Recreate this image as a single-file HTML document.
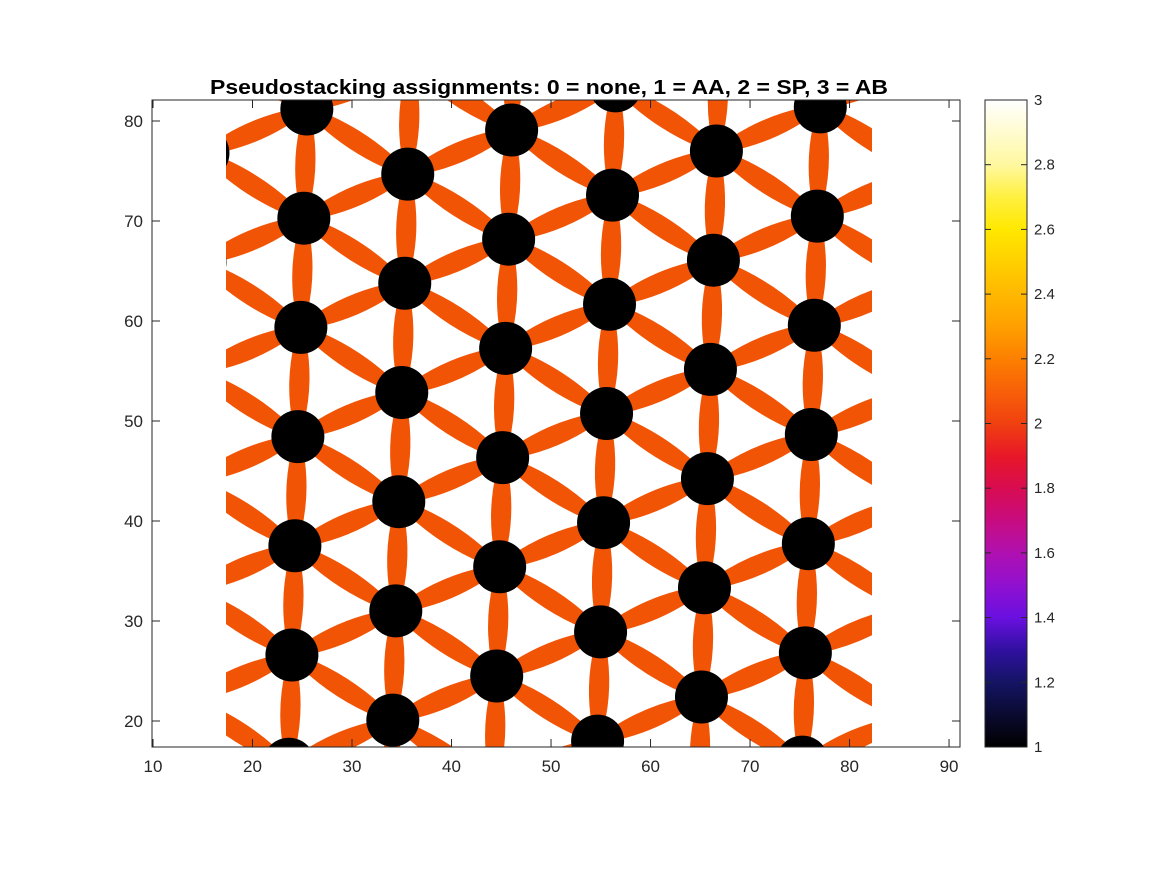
<!DOCTYPE html>
<html><head><meta charset="utf-8"><style>
html,body{margin:0;padding:0;background:#fff;font-family:"Liberation Sans",sans-serif;overflow:hidden;width:1167px;height:875px}
svg{display:block}
svg text{font-family:"Liberation Sans",sans-serif}
</style></head><body>
<svg id="chart" width="1167" height="875" xmlns="http://www.w3.org/2000/svg">
<defs>
<clipPath id="dataClip"><rect x="226" y="100" width="646" height="647"/></clipPath>
<linearGradient id="cbGrad" x1="0" y1="1" x2="0" y2="0">
<stop offset="0" stop-color="#000000"/><stop offset="0.05" stop-color="#0a0a30"/>
<stop offset="0.1" stop-color="#141464"/><stop offset="0.15" stop-color="#3010a0"/>
<stop offset="0.2" stop-color="#6a10e0"/><stop offset="0.25" stop-color="#9010d0"/>
<stop offset="0.3" stop-color="#b010b0"/><stop offset="0.35" stop-color="#c80c80"/>
<stop offset="0.4" stop-color="#d80c50"/><stop offset="0.45" stop-color="#e81828"/>
<stop offset="0.5" stop-color="#f04010"/><stop offset="0.55" stop-color="#f86008"/>
<stop offset="0.6" stop-color="#fc8000"/><stop offset="0.65" stop-color="#ffa000"/>
<stop offset="0.7" stop-color="#ffb800"/><stop offset="0.75" stop-color="#ffd000"/>
<stop offset="0.8" stop-color="#ffe800"/><stop offset="0.85" stop-color="#fff040"/>
<stop offset="0.9" stop-color="#fff8a0"/><stop offset="1" stop-color="#ffffff"/>
</linearGradient>
</defs>
<g id="plot"></g>
</svg>
<script>
// Data (in axis units)
const xTicks=[10,20,30,40,50,60,70,80,90];
const yTicks=[20,30,40,50,60,70,80];
const cbTicks=[1,1.2,1.4,1.6,1.8,2,2.2,2.4,2.6,2.8,3];
const cbTickLabels=["1","1.2","1.4","1.6","1.8","2","2.2","2.4","2.6","2.8","3"];
const latticeOrigin=[24.86,59.36];
const vecA=[-0.30,-10.92];
const vecB=[10.44,4.41];
const dataExtentX=[17.4,82.3];
const dataExtentY=[17.4,82.1];

const NS="http://www.w3.org/2000/svg";
const L=152,R=960,T=100,B=747;
const xMin=9.9,xMax=91.1,yMin=17.4,yMax=82.1;
const sx=v=>L+(v-xMin)/(xMax-xMin)*(R-L);
const sy=v=>B-(v-yMin)/(yMax-yMin)*(B-T);
const g=document.getElementById('plot');
function mk(tag,attrs,parent){const e=document.createElementNS(NS,tag);for(const k in attrs)e.setAttribute(k,attrs[k]);(parent||g).appendChild(e);return e;}

const dg=mk('g',{'clip-path':'url(#dataClip)'});


const bg=mk('rect',{x:sx(dataExtentX[0]),y:sy(dataExtentY[1]),width:sx(dataExtentX[1])-sx(dataExtentX[0]),height:sy(dataExtentY[0])-sy(dataExtentY[1]),fill:'#fff'},dg);



const centers=[];
for(let i=-2;i<=8;i++)for(let j=-4;j<=9;j++){
  const x=latticeOrigin[0]+i*vecB[0]+j*vecA[0];
  const y=latticeOrigin[1]+i*vecB[1]+j*vecA[1];
  if(x>5&&x<95&&y>5&&y<95)centers.push([x,y]);
}
const nb=[vecA,vecB,[vecA[0]+vecB[0],vecA[1]+vecB[1]]];
const bands=mk('g',{},dg);


centers.forEach(c=>{nb.forEach(v=>{
  const x1=sx(c[0]),y1=sy(c[1]),x2=sx(c[0]+v[0]),y2=sy(c[1]+v[1]);
  const dx=x2-x1,dy=y2-y1,len=Math.hypot(dx,dy),ux=dx/len,uy=dy/len,px=-uy,py=ux;
  const w0=6,w1=10.5;
  const ax=x1+ux*15,ay=y1+uy*15,bx=x2-ux*15,by=y2-uy*15;
  const mx=(ax+bx)/2,my=(ay+by)/2;
  const d=`M${ax+px*w0},${ay+py*w0} Q${mx+px*w1*1.35},${my+py*w1*1.35} ${bx+px*w0},${by+py*w0} L${bx-px*w0},${by-py*w0} Q${mx-px*w1*1.35},${my-py*w1*1.35} ${ax-px*w0},${ay-py*w0} Z`;
  const p=mk('path',{d:d,fill:'#f25405'},bands);
  
  
});});
centers.forEach(c=>{
  const e=mk('circle',{cx:sx(c[0]),cy:sy(c[1]),r:26.5,fill:'#000'},dg);
  
  
});

const box=mk('rect',{x:L,y:T,width:R-L,height:B-T,fill:'none',stroke:'#262626','stroke-width':1});


xTicks.forEach(t=>{
  const x=sx(t);
  const a=mk('line',{x1:x,y1:B,x2:x,y2:B-8,stroke:'#262626'});
  
  
  const b=mk('line',{x1:x,y1:T,x2:x,y2:T+8,stroke:'#262626'});
  
  
  const tx=mk('text',{x:x,y:B+25,'text-anchor':'middle','font-size':17,fill:'#262626'});
  tx.textContent=t;
  
  
});
yTicks.forEach(t=>{
  const y=sy(t);
  const a=mk('line',{x1:L,y1:y,x2:L+8,y2:y,stroke:'#262626'});
  
  
  const b=mk('line',{x1:R,y1:y,x2:R-8,y2:y,stroke:'#262626'});
  
  
  const tx=mk('text',{x:L-9,y:y+6,'text-anchor':'end','font-size':17,fill:'#262626'});
  tx.textContent=t;
  
  
});
const title=mk('text',{x:210,y:94,'font-size':20,'font-weight':'bold',fill:'#000',textLength:678,lengthAdjust:'spacingAndGlyphs'});
title.textContent='Pseudostacking assignments: 0 = none, 1 = AA, 2 = SP, 3 = AB';



const CL=985,CR=1027,CT=100,CB=747;
const cb=mk('rect',{x:CL,y:CT,width:CR-CL,height:CB-CT,fill:'url(#cbGrad)',stroke:'#262626'});


const cy=v=>CB-(v-1)/2*(CB-CT);
cbTicks.forEach((t,i)=>{
  const y=cy(t);
  const a=mk('line',{x1:CR-6,y1:y,x2:CR,y2:y,stroke:'#262626'});
  
  
  const b=mk('line',{x1:CL,y1:y,x2:CL+6,y2:y,stroke:'#262626'});
  
  
  const tx=mk('text',{x:CR+7,y:y+5,'font-size':15,fill:'#262626'});
  tx.textContent=cbTickLabels[i];
  
  
});
</script>
</body></html>
